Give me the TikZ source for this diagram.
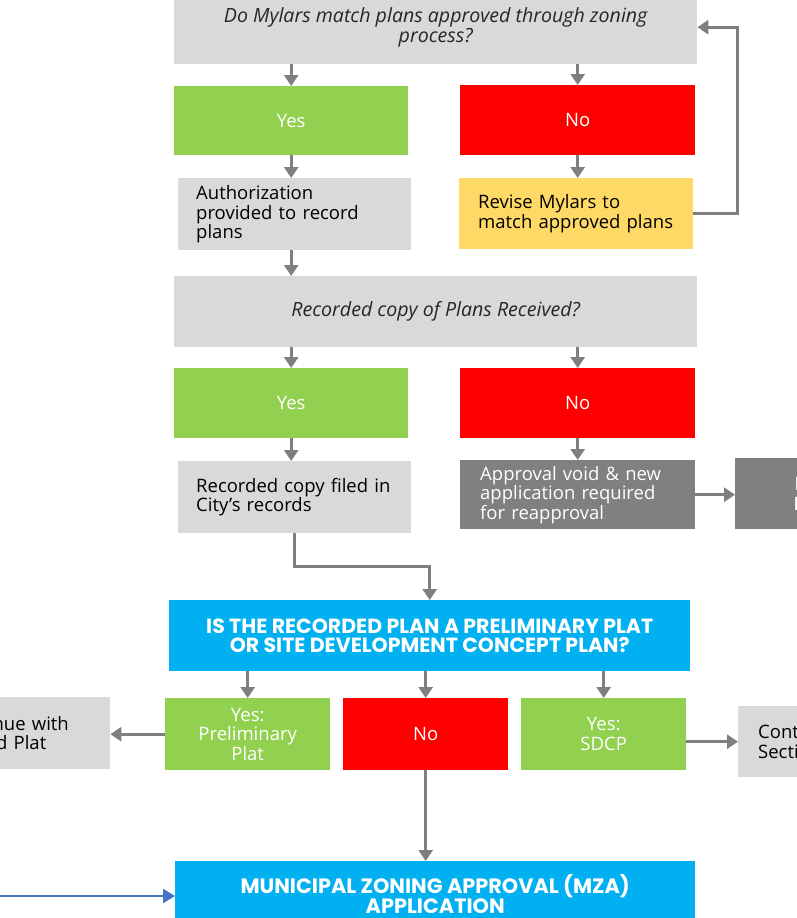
\documentclass[tikz,border=0pt]{standalone}
\usepackage{fontspec}
\setmainfont{Open Sans}
\newfontfamily\capsfont{Poppins}
\usepackage{tikz}
\usetikzlibrary{positioning,calc}
\usetikzlibrary{arrows.meta}
\definecolor{boxgray}{HTML}{D9D9D9}
\definecolor{darkbox}{HTML}{808080}
\definecolor{yesgreen}{HTML}{92D050}
\definecolor{nored}{HTML}{FF0000}
\definecolor{reviseyellow}{HTML}{FFD966}
\definecolor{zonecyan}{HTML}{00B0F0}
\definecolor{inblue}{HTML}{4472C4}
\definecolor{arrowgray}{HTML}{7F7F7F}
\tikzstyle{arrow} = [line width=2.8pt,draw=arrowgray,-{Triangle[length=11pt,width=14pt]}]
\tikzstyle{bluearrow} = [line width=2.4pt,draw=inblue,-{Triangle[length=12pt,width=14pt]}]

\begin{document}
\begin{tikzpicture}[x=1pt,y=-1pt,
	box/.style n args={2}{rectangle, anchor=north west, inner sep=0pt, minimum width=#1, minimum height=#2, align=center, font=\fontsize{18.5}{19.5}\selectfont},
	question/.style={fill=boxgray, text=black!85, font=\fontsize{19.6}{20}\selectfont\itshape},
	yes/.style={fill=yesgreen, text=white},
	no/.style={fill=nored, text=white},
	stepbox/.style={fill=boxgray, text=black, align=left, inner xsep=18pt},
	caps/.style={fill=zonecyan, text=white, font=\capsfont\fontsize{20.5}{18.5}\selectfont\bfseries}]
	\useasboundingbox (0,0) rectangle (797,918);
	
	% MYLARS
	
	\node [box={523pt}{74pt}, question] (mylars) at (174,-10) {Do Mylars match plans approved through zoning\\process?};
	\node [box={234pt}{69pt}, yes] (yesmylars) at (174,86) {Yes};
	\node [box={235pt}{70pt}, no] (nomylars) at (460,85) {No};
	\node [box={233pt}{72pt}, stepbox, text width=197pt] (authorize) at (178,178) {Authorization\\provided to record\\plans};
	\node [box={234pt}{71pt}, fill=reviseyellow, align=left, text width=196pt, inner xsep=19pt] (revise) at (459,178) {Revise Mylars to\\match approved plans};
	
	% RECORDED COPY
	
	\node [box={523pt}{71pt}, question] (received) at (174,276) {Recorded copy of Plans Received?};
	\node [box={234pt}{70pt}, yes] (yesrec) at (174,368) {Yes};
	\node [box={235pt}{70pt}, no] (norec) at (460,368) {No};
	\node [box={233pt}{72pt}, stepbox, text width=197pt] (filed) at (178,461) {Recorded copy filed in\\City’s records};
	\node [box={235pt}{69pt}, fill=darkbox, text=white, align=left, text width=195pt, inner xsep=20pt] (void) at (460,460) {Approval void \& new\\application required\\for reapproval};
	\node [box={187pt}{71pt}, fill=darkbox, text=white, font=\fontsize{18.5}{20}\selectfont\bfseries] (restart) at (735,458) {Restart\\Process};
	
	% PLAN TYPE
	
	\node [box={521pt}{71pt}, caps] (plantype) at (169,600) {IS THE RECORDED PLAN A PRELIMINARY PLAT\\OR SITE DEVELOPMENT CONCEPT PLAN?};
	\node [box={165pt}{72pt}, yes] (yesplat) at (165,698) {Yes:\\Preliminary\\Plat};
	\node [box={165pt}{72pt}, no] (noplan) at (343,698) {No};
	\node [box={165pt}{72pt}, yes] (yessdcp) at (521,698) {Yes:\\SDCP};
	\node [box={183pt}{72pt}, stepbox, inner xsep=20pt, text width=143pt] (platnext) at (-73,697) {Continue with\\Record Plat};
	\node [box={183pt}{71pt}, stepbox, inner xsep=20pt, text width=143pt] (sdcpnext) at (738,706) {Continue with\\Section};
	
	% MZA
	
	\node [box={520pt}{66pt}, caps, font=\capsfont\fontsize{20.8}{17.5}\selectfont\bfseries] (mza) at (175,861) {MUNICIPAL ZONING APPROVAL (MZA)\\APPLICATION};
	\coordinate (mzain) at (-10,896);
	
	% ARROWS
	
	\draw [arrow] (mylars.south -| yesmylars.north) -- (yesmylars.north);
	\draw [arrow] (mylars.south -| nomylars.north) -- (nomylars.north);
	\draw [arrow] (yesmylars.south) -- (yesmylars.south |- authorize.north);
	\draw [arrow] (nomylars.south) -- (nomylars.south |- revise.north);
	\draw [arrow] (revise.east) -- ++(44,0) |- (mylars.east);
	\draw [arrow] (yesmylars.south |- authorize.south) -- (yesmylars.south |- received.north);
	
	\draw [arrow] (received.south -| yesrec.north) -- (yesrec.north);
	\draw [arrow] (received.south -| norec.north) -- (norec.north);
	\draw [arrow] (yesrec.south) -- (yesrec.south |- filed.north);
	\draw [arrow] (norec.south) -- (norec.south |- void.north);
	\draw [arrow] (void.east) -- (restart.west |- void.east);
	\draw [arrow] (filed.south) -- ++(0,33) -| (plantype.north);
	
	\draw [arrow] (plantype.south -| yesplat.north) -- (yesplat.north);
	\draw [arrow] (plantype.south -| noplan.north) -- (noplan.north);
	\draw [arrow] (plantype.south -| yessdcp.north) -- (yessdcp.north);
	\draw [arrow] (yesplat.west) -- (platnext.east |- yesplat.west);
	\draw [arrow] (yessdcp.east |- sdcpnext.west) -- (sdcpnext.west);
	\draw [arrow] (noplan.south) -- (noplan.south |- mza.north);
	\draw [bluearrow] (mzain) -- (mzain -| mza.west);
	
	% BACKGROUND FILL BELOW MZA
	\fill [zonecyan] (mza.south west) rectangle (695,930);
	
\end{tikzpicture}
\end{document}
